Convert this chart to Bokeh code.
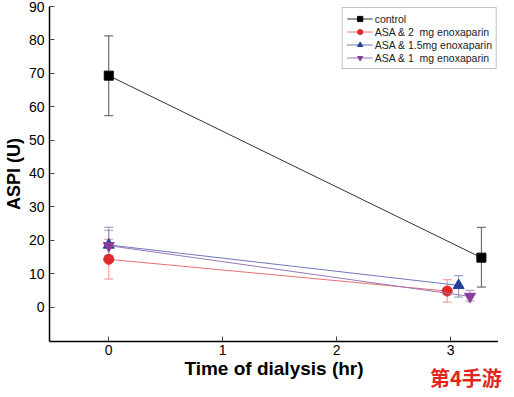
from bokeh.plotting import figure
from bokeh.models import ColumnDataSource, Whisker, TeeHead, Legend, LegendItem, FixedTicker, Range1d, Div
from bokeh.layouts import column
from bokeh.embed import file_html
from bokeh.resources import INLINE

# ---- data ----
x_ticks = [0, 1, 2, 3]
y_ticks = [0, 10, 20, 30, 40, 50, 60, 70, 80, 90]

t_control = [0, 3.27]
v_control = [69.3, 14.8]
up_control = [81.2, 23.9]
lo_control = [57.3, 6.0]

t_asa2 = [0, 2.97]
v_asa2 = [14.3, 4.8]
up_asa2 = [20.3, 8.2]
lo_asa2 = [8.4, 1.5]

t_asa15 = [0, 3.07]
v_asa15 = [18.6, 6.5]
up_asa15 = [23.9, 9.4]
lo_asa15 = [15.5, 3.0]

t_asa1 = [0, 3.17]
v_asa1 = [18.4, 3.2]
up_asa1 = [23.0, 5.0]
lo_asa1 = [15.0, 1.8]

labels = ["control", "ASA & 2  mg enoxaparin", "ASA & 1.5mg enoxaparin", "ASA & 1  mg enoxaparin"]
watermark = "第4手游"

p = figure(width=498, height=381, output_backend="svg", toolbar_location=None,
           x_range=Range1d(-0.52, 3.42), y_range=Range1d(-10.3, 90),
           min_border_left=45, min_border_right=0, min_border_top=6, min_border_bottom=40)
p.outline_line_color = None
p.grid.grid_line_color = None
p.background_fill_color = "white"

FONT = "Liberation Sans"
for ax in (p.xaxis[0], p.yaxis[0]):
    ax.major_tick_in = 5
    ax.major_tick_out = 0
    ax.minor_tick_line_color = None
    ax.axis_line_color = "black"
    ax.axis_line_width = 1.5
    ax.major_tick_line_color = "#444444"
    ax.major_label_text_font = FONT
    ax.major_label_text_font_size = "14px"
    ax.major_label_text_color = "black"
    ax.axis_label_text_font = FONT
    ax.axis_label_text_font_style = "bold"
    ax.axis_label_text_color = "black"

p.xaxis.ticker = FixedTicker(ticks=x_ticks)
p.yaxis.ticker = FixedTicker(ticks=y_ticks)
p.xaxis.axis_label = "Time of dialysis (hr)"
p.yaxis.axis_label = "ASPI (U)"
p.xaxis.axis_label_text_font_size = "19px"
p.yaxis.axis_label_text_font_size = "18px"
p.xaxis.major_label_standoff = 3
p.yaxis.major_label_standoff = 5
p.xaxis.axis_label_standoff = 0
p.yaxis.axis_label_standoff = 2
p.xaxis.axis_label_text_line_height = 0.9
p.xaxis.major_label_text_line_height = 0.9

series = [
    (t_control, v_control, up_control, lo_control, "#333333", "black", "#555555", "square", 9),
    (t_asa2, v_asa2, up_asa2, lo_asa2, "#e87070", "#e02a2a", "#f09090", "circle", 10),
    (t_asa15, v_asa15, up_asa15, lo_asa15, "#7078b8", "#23409a", "#8890b8", "triangle", 11),
    (t_asa1, v_asa1, up_asa1, lo_asa1, "#9a78b8", "#8a3c9a", "#a890c0", "inverted_triangle", 11),
]

items = []
for (t, v, up, lo, lc, mc, ec, mk, sz), lab in zip(series, labels):
    src = ColumnDataSource(dict(x=t, y=v, upper=up, lower=lo))
    w = Whisker(base="x", upper="upper", lower="lower", source=src, dimension="height",
                line_color=ec, line_width=1,
                upper_head=TeeHead(size=9, line_color=ec, line_width=1),
                lower_head=TeeHead(size=9, line_color=ec, line_width=1))
    p.add_layout(w)
    r_line = p.line("x", "y", source=src, line_color=lc, line_width=1)
    r_mark = p.scatter("x", "y", source=src, marker=mk, size=sz, fill_color=mc, line_color=mc)
    items.append(LegendItem(label=lab, renderers=[r_line, r_mark]))

legend = Legend(items=items, location="top_right",
                label_text_font=FONT, label_text_font_size="10.5px", label_text_color="#222222",
                glyph_width=26, glyph_height=13, label_height=12, spacing=0,
                padding=4, margin=1, label_standoff=2,
                border_line_color="#888888", border_line_width=1,
                background_fill_color="white", background_fill_alpha=1)
p.add_layout(legend)

wm = Div(text=watermark, width=82, height=20, margin=(-20, 0, 0, 430),
         styles={"font-family": "'Noto Sans CJK SC'", "font-weight": "bold",
                 "font-size": "20px", "line-height": "20px", "color": "#e3261c",
                 "position": "relative", "top": "7px"})

layout = column(p, wm, spacing=0)
open("out.html", "w").write(file_html(layout, INLINE))
